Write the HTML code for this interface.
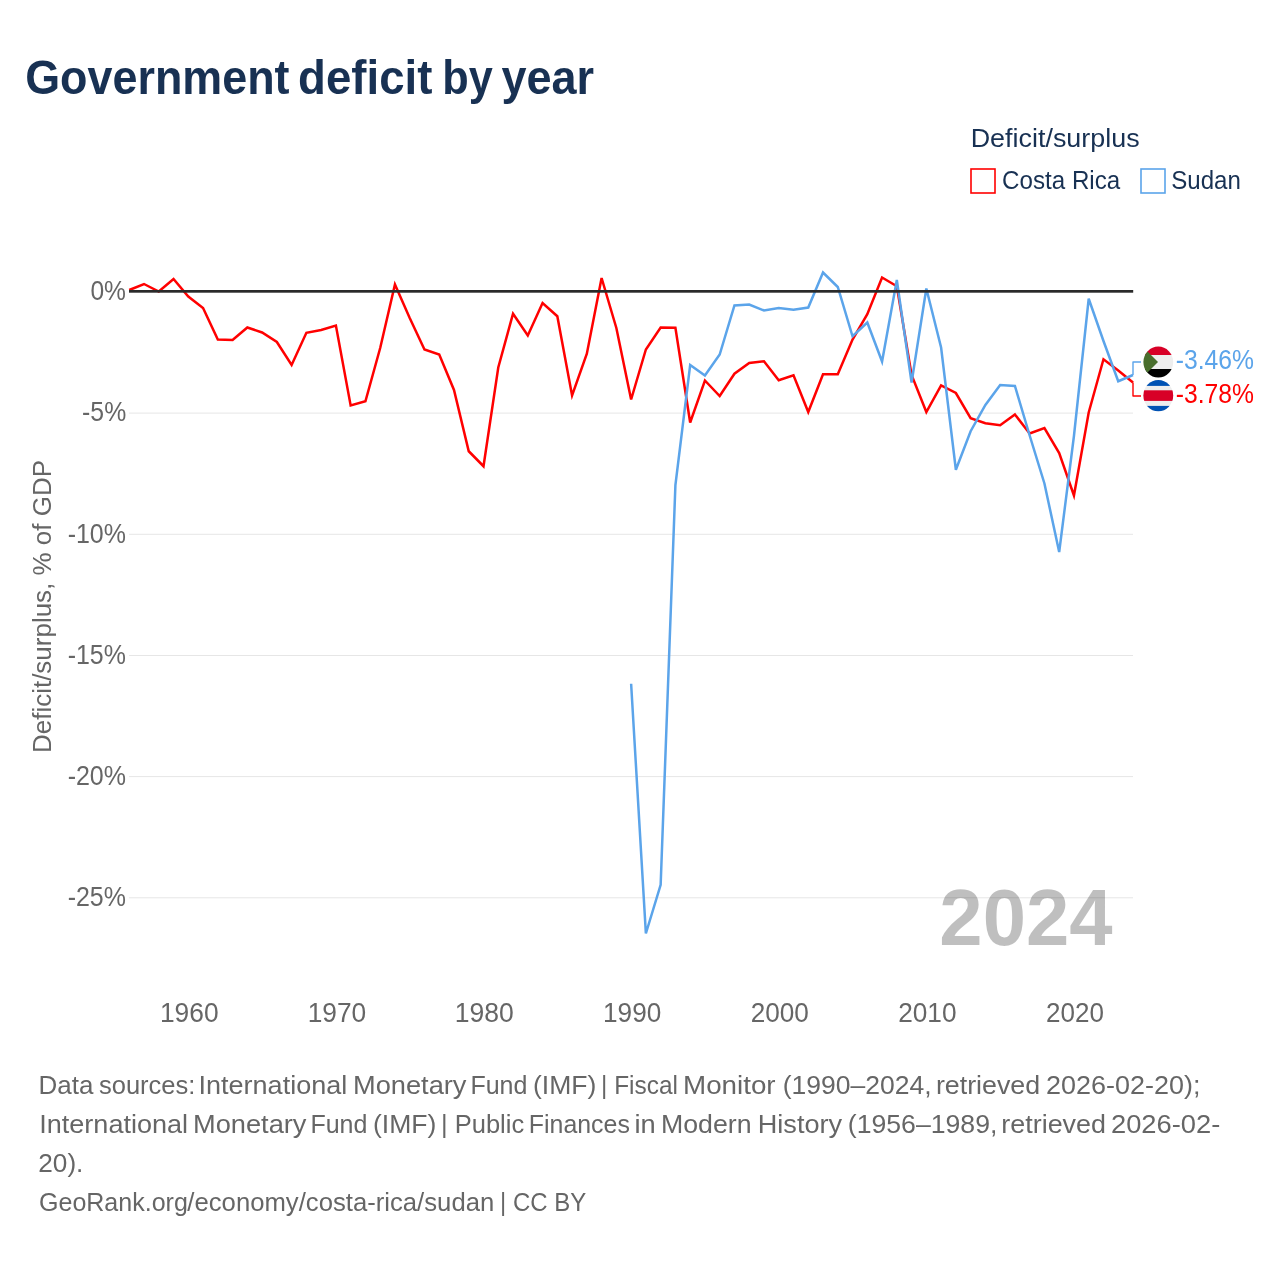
<!DOCTYPE html>
<html lang="en"><head><meta charset="utf-8"><title>Government deficit by year</title>
<style>html,body{margin:0;padding:0;background:#fff}svg{display:block}text{font-family:"Liberation Sans",sans-serif}</style></head><body>
<svg width="1280" height="1280" viewBox="0 0 1280 1280">
<rect width="1280" height="1280" fill="#fff"/>
<text y="93.75" font-size="48" font-weight="700" fill="#183153"><tspan x="25.23" textLength="264.30" lengthAdjust="spacingAndGlyphs">Government</tspan> <tspan x="298.11" textLength="134.23" lengthAdjust="spacingAndGlyphs">deficit</tspan> <tspan x="442.32" textLength="50.48" lengthAdjust="spacingAndGlyphs">by</tspan> <tspan x="501.48" textLength="92.58" lengthAdjust="spacingAndGlyphs">year</tspan></text>
<text x="970.67" y="147.2" font-size="25" fill="#183153" textLength="169.01" lengthAdjust="spacingAndGlyphs">Deficit/surplus</text>
<rect x="971" y="169" width="24" height="24" fill="none" stroke="#ff0000" stroke-width="1.6"/>
<text x="1002.07" y="188.6" font-size="25" fill="#183153" textLength="118.14" lengthAdjust="spacingAndGlyphs">Costa Rica</text>
<rect x="1141" y="169" width="24" height="24" fill="none" stroke="#5ba4ea" stroke-width="1.6"/>
<text x="1171.28" y="188.6" font-size="25" fill="#183153" textLength="69.63" lengthAdjust="spacingAndGlyphs">Sudan</text>
<rect x="129" y="412.6" width="1004" height="1" fill="#e6e6e6"/>
<rect x="129" y="533.8" width="1004" height="1" fill="#e6e6e6"/>
<rect x="129" y="655.0" width="1004" height="1" fill="#e6e6e6"/>
<rect x="129" y="776.1" width="1004" height="1" fill="#e6e6e6"/>
<rect x="129" y="897.3" width="1004" height="1" fill="#e6e6e6"/>
<text x="939.32" y="945.2" font-size="79.5" font-weight="700" fill="#000" fill-opacity="0.25" textLength="173.28" lengthAdjust="spacingAndGlyphs">2024</text>
<text x="90.40" y="299.7" font-size="28" fill="#666666" textLength="35.52" lengthAdjust="spacingAndGlyphs">0%</text>
<text x="82.12" y="421.2" font-size="28" fill="#666666" textLength="44.12" lengthAdjust="spacingAndGlyphs">-5%</text>
<text x="67.67" y="542.7" font-size="28" fill="#666666" textLength="58.28" lengthAdjust="spacingAndGlyphs">-10%</text>
<text x="67.70" y="664.2" font-size="28" fill="#666666" textLength="58.24" lengthAdjust="spacingAndGlyphs">-15%</text>
<text x="67.64" y="785.2" font-size="28" fill="#666666" textLength="58.41" lengthAdjust="spacingAndGlyphs">-20%</text>
<text x="67.68" y="906.2" font-size="28" fill="#666666" textLength="58.26" lengthAdjust="spacingAndGlyphs">-25%</text>
<text x="159.98" y="1022" font-size="27.5" fill="#666666" textLength="58.60" lengthAdjust="spacingAndGlyphs">1960</text>
<text x="307.63" y="1022" font-size="27.5" fill="#666666" textLength="58.53" lengthAdjust="spacingAndGlyphs">1970</text>
<text x="454.80" y="1022" font-size="27.5" fill="#666666" textLength="59.06" lengthAdjust="spacingAndGlyphs">1980</text>
<text x="603.04" y="1022" font-size="27.5" fill="#666666" textLength="58.22" lengthAdjust="spacingAndGlyphs">1990</text>
<text x="750.69" y="1022" font-size="27.5" fill="#666666" textLength="58.21" lengthAdjust="spacingAndGlyphs">2000</text>
<text x="898.21" y="1022" font-size="27.5" fill="#666666" textLength="58.30" lengthAdjust="spacingAndGlyphs">2010</text>
<text x="1046.00" y="1022" font-size="27.5" fill="#666666" textLength="57.92" lengthAdjust="spacingAndGlyphs">2020</text>
<text transform="translate(51,753.00) rotate(-90)" font-size="25.5" fill="#666666" textLength="292.98" lengthAdjust="spacingAndGlyphs">Deficit/surplus, % of GDP</text>
<polyline fill="none" stroke="#ff0000" stroke-width="2.5" stroke-linejoin="miter" points="129.25,290.00 144.01,284.00 158.77,291.50 173.53,279.00 188.29,296.50 203.06,308.00 217.82,339.50 232.58,340.00 247.34,327.50 262.10,332.50 276.86,342.00 291.62,365.00 306.38,332.75 321.14,330.00 335.90,325.50 350.66,405.50 365.43,401.25 380.19,348.00 394.95,284.50 409.71,318.00 424.47,349.50 439.23,354.50 453.99,390.00 468.75,451.25 483.51,466.25 498.27,367.50 513.04,313.75 527.80,335.50 542.56,303.00 557.32,316.25 572.08,395.50 586.84,353.75 601.60,278.00 616.36,328.00 631.12,399.50 645.88,349.50 660.65,327.50 675.41,327.75 690.17,422.50 704.93,380.50 719.69,396.00 734.45,373.75 749.21,363.00 763.97,361.25 778.73,380.25 793.50,375.25 808.26,412.00 823.02,374.25 837.78,374.25 852.54,339.50 867.30,314.25 882.06,277.50 896.82,286.25 911.58,375.00 926.34,412.00 941.10,385.50 955.87,393.00 970.63,418.25 985.39,423.25 1000.15,425.25 1014.91,414.50 1029.67,433.50 1044.43,428.00 1059.19,453.00 1073.95,495.50 1088.71,412.50 1103.48,359.25 1118.24,370.50 1133.00,382.50"/>
<polyline fill="none" stroke="#5ba4ea" stroke-width="2.5" stroke-linejoin="miter" points="631.12,683.75 645.88,933.50 660.65,884.80 675.41,485.00 690.17,365.00 704.93,375.50 719.69,354.50 734.45,305.50 749.21,304.50 763.97,310.50 778.73,308.00 793.50,309.75 808.26,307.50 823.02,272.50 837.78,287.00 852.54,336.25 867.30,322.50 882.06,361.50 896.82,280.00 911.58,382.50 926.34,288.50 941.10,347.50 955.87,469.75 970.63,431.25 985.39,405.00 1000.15,385.00 1014.91,386.00 1029.67,435.50 1044.43,483.50 1059.19,552.00 1073.95,436.00 1088.71,298.75 1103.48,341.00 1118.24,381.25 1133.00,375.00"/>
<rect x="129" y="290" width="1004.2" height="2.7" fill="#2a2a2a"/>
<polyline fill="none" stroke="#5ba4ea" stroke-width="1.4" stroke-linejoin="round" points="1133,375 1133,362 1141,362"/>
<polyline fill="none" stroke="#ff0000" stroke-width="1.4" stroke-linejoin="round" points="1133,382.5 1133,396 1141,396"/>
<defs><clipPath id="cs"><ellipse cx="1158.3" cy="362.1" rx="14.9" ry="15.5"/></clipPath><clipPath id="cc"><ellipse cx="1158.3" cy="395.6" rx="14.9" ry="15.6"/></clipPath></defs>
<g clip-path="url(#cs)"><rect x="1143" y="346" width="31" height="9" fill="#d80027"/><rect x="1143" y="355" width="31" height="14" fill="#eeeeee"/><rect x="1143" y="369" width="31" height="9" fill="#000"/><polygon points="1143,347 1158,362 1143,377" fill="#496e2d"/></g>
<g clip-path="url(#cc)"><rect x="1143" y="379" width="31" height="33" fill="#eeeeee"/><rect x="1143" y="379" width="31" height="6.9" fill="#0052b4"/><rect x="1143" y="390.3" width="31" height="10.6" fill="#d80027"/><rect x="1143" y="405.9" width="31" height="6" fill="#0052b4"/></g>
<text x="1175.72" y="368.8" font-size="28" fill="#5ba4ea" textLength="78.26" lengthAdjust="spacingAndGlyphs">-3.46%</text>
<text x="1175.74" y="402.5" font-size="28" fill="#ff0000" textLength="78.23" lengthAdjust="spacingAndGlyphs">-3.78%</text>
<text y="1093.9" font-size="26.5" fill="#666666"><tspan x="38.55" textLength="54.84" lengthAdjust="spacingAndGlyphs">Data</tspan> <tspan x="98.96" textLength="96.44" lengthAdjust="spacingAndGlyphs">sources:</tspan> <tspan x="198.56" textLength="148.68" lengthAdjust="spacingAndGlyphs">International</tspan> <tspan x="353.00" textLength="113.47" lengthAdjust="spacingAndGlyphs">Monetary</tspan> <tspan x="470.38" textLength="56.97" lengthAdjust="spacingAndGlyphs">Fund</tspan> <tspan x="532.99" textLength="63.42" lengthAdjust="spacingAndGlyphs">(IMF)</tspan> <tspan x="601.00" textLength="76.89" lengthAdjust="spacingAndGlyphs">| Fiscal</tspan> <tspan x="683.00" textLength="92.61" lengthAdjust="spacingAndGlyphs">Monitor</tspan> <tspan x="782.73" textLength="148.78" lengthAdjust="spacingAndGlyphs">(1990–2024,</tspan> <tspan x="935.93" textLength="104.18" lengthAdjust="spacingAndGlyphs">retrieved</tspan> <tspan x="1046.07" textLength="154.32" lengthAdjust="spacingAndGlyphs">2026-02-20);</tspan></text>
<text y="1132.9" font-size="26.5" fill="#666666"><tspan x="39.26" textLength="148.83" lengthAdjust="spacingAndGlyphs">International</tspan> <tspan x="193.00" textLength="113.47" lengthAdjust="spacingAndGlyphs">Monetary</tspan> <tspan x="310.38" textLength="56.97" lengthAdjust="spacingAndGlyphs">Fund</tspan> <tspan x="372.99" textLength="63.42" lengthAdjust="spacingAndGlyphs">(IMF)</tspan> <tspan x="441.00" textLength="83.18" lengthAdjust="spacingAndGlyphs">| Public</tspan> <tspan x="528.81" textLength="101.07" lengthAdjust="spacingAndGlyphs">Finances</tspan> <tspan x="634.47" textLength="21.24" lengthAdjust="spacingAndGlyphs">in</tspan> <tspan x="661.00" textLength="90.57" lengthAdjust="spacingAndGlyphs">Modern</tspan> <tspan x="757.75" textLength="84.35" lengthAdjust="spacingAndGlyphs">History</tspan> <tspan x="847.84" textLength="149.53" lengthAdjust="spacingAndGlyphs">(1956–1989,</tspan> <tspan x="1001.36" textLength="104.54" lengthAdjust="spacingAndGlyphs">retrieved</tspan> <tspan x="1110.98" textLength="109.33" lengthAdjust="spacingAndGlyphs">2026-02-</tspan></text>
<text y="1171.9" font-size="26.5" fill="#666666"><tspan x="38.27" textLength="45.11" lengthAdjust="spacingAndGlyphs">20).</tspan></text>
<text y="1210.9" font-size="26.5" fill="#666666"><tspan x="39.04" textLength="148.78" lengthAdjust="spacingAndGlyphs">GeoRank.org</tspan><tspan x="187.36" textLength="306.87" lengthAdjust="spacingAndGlyphs">/economy/costa-rica/sudan</tspan> <tspan x="500.00" textLength="86.11" lengthAdjust="spacingAndGlyphs">| CC BY</tspan></text>
</svg></body></html>
